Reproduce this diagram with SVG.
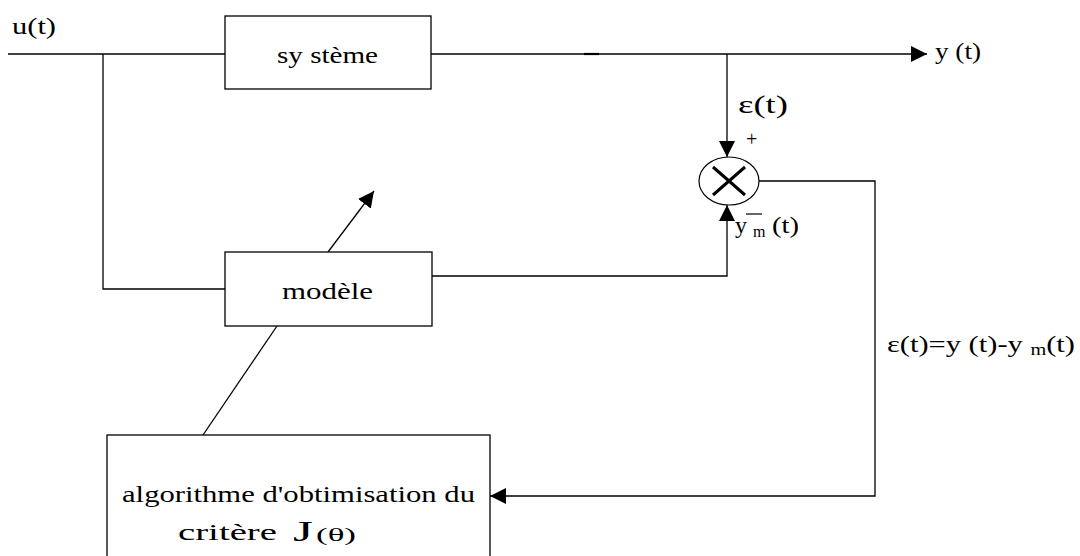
<svg xmlns="http://www.w3.org/2000/svg" width="1080" height="556" viewBox="0 0 1080 556">
<style>
text{font-family:"Liberation Serif","Times New Roman",serif;fill:#000}
.m{font-size:24px}
.sub{font-size:16px}
.box{fill:#fff;stroke:#000;stroke-width:1.3}
</style>
<defs>
<marker id="ah" viewBox="0 0 10 10" refX="10" refY="5" markerWidth="16" markerHeight="16" markerUnits="userSpaceOnUse" orient="auto">
<path d="M0,0 L10,5 L0,10 z" fill="#000"/>
</marker>
</defs>
<rect width="1080" height="556" fill="#fff"/>
<g id="connectors" fill="none" stroke="#000" stroke-width="1.3">
<path d="M8,54 H225"/>
<path d="M103,54 V289 H225"/>
<path d="M431,54 H927" marker-end="url(#ah)"/>
<path d="M584,54 H599" stroke-width="2.2"/>
<path d="M727,54 V157" marker-end="url(#ah)"/>
<path d="M432,276 H727 V205" marker-end="url(#ah)"/>
<path d="M759,181 H875 V496 H490" marker-end="url(#ah)"/>
<path d="M328,252 L374,191" marker-end="url(#ah)"/>
<path d="M203,435 L277,326"/>
</g>
<g id="systeme">
<rect class="box" x="225" y="16" width="206" height="73"/>
<text class="m" x="277" y="63" textLength="101" lengthAdjust="spacingAndGlyphs">sy stème</text>
</g>
<g id="modele">
<rect class="box" x="225" y="252" width="207" height="74"/>
<text class="m" x="282" y="299" textLength="91" lengthAdjust="spacingAndGlyphs">modèle</text>
</g>
<g id="algorithme">
<rect class="box" x="107" y="435" width="383" height="130"/>
<text class="m" x="122" y="502" textLength="353" lengthAdjust="spacingAndGlyphs">algorithme d'obtimisation du</text>
<text class="m" x="178" y="540" textLength="99" lengthAdjust="spacingAndGlyphs">critère</text>
<text x="293" y="541" style="font-size:30px" textLength="20" lengthAdjust="spacingAndGlyphs">J</text>
<text x="316" y="541" style="font-size:19px" textLength="40" lengthAdjust="spacingAndGlyphs">(θ)</text>
</g>
<g id="comparateur">
<ellipse cx="729" cy="181" rx="30" ry="24" fill="#fff" stroke="#000" stroke-width="1.2"/>
<path d="M713,167 L745,195 M745,167 L713,195" stroke="#000" stroke-width="3" fill="none"/>
</g>
<g id="labels">
<text class="m" x="12" y="34" textLength="44" lengthAdjust="spacingAndGlyphs">u(t)</text>
<text class="m" x="935" y="59" textLength="46" lengthAdjust="spacingAndGlyphs">y (t)</text>
<text x="738" y="113" style="font-size:25px" textLength="50" lengthAdjust="spacingAndGlyphs">ε(t)</text>
<text x="746" y="146" style="font-size:20px">+</text>
<text class="m" x="735" y="233">y</text>
<text class="sub" x="753" y="237">m</text>
<text class="m" x="772" y="233" textLength="27" lengthAdjust="spacingAndGlyphs">(t)</text>
<path d="M746,214 H762" stroke="#000" stroke-width="1.2"/>
<text class="m" x="887" y="352" textLength="188" lengthAdjust="spacingAndGlyphs">ε(t)=y (t)-y <tspan class="sub" dy="3">m</tspan><tspan dy="-3">(t)</tspan></text>
</g>
</svg>
